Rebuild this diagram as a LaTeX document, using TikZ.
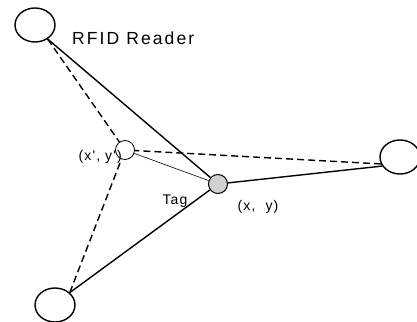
\documentclass[tikz,border=0pt]{standalone}
\usepackage{fontspec}
\setmainfont{Liberation Sans}
\newfontfamily\labelfont[LetterSpace=8]{Liberation Sans}
\newfontfamily\titlefont[LetterSpace=12]{Liberation Sans}
\usetikzlibrary{shapes.geometric}
\tikzset{
  reader/.style={draw, ellipse, line width=1.4pt, minimum width=40pt, minimum height=34pt, inner sep=0pt},
  tagdot/.style={draw, circle, line width=1pt, fill=black!18, minimum size=19pt, inner sep=0pt},
  estdot/.style={draw, circle, line width=0.8pt, minimum size=19pt, inner sep=0pt},
  rangeline/.style={line width=1.4pt},
  guessline/.style={line width=1.4pt, dash pattern=on 7pt off 4pt},
  lbl/.style={font=\labelfont\fontsize{14}{16}\selectfont, inner sep=0pt}
}
\begin{document}
\begin{tikzpicture}[x=1pt,y=-1pt]
  \useasboundingbox (0,0) rectangle (417,321);
  % readers
  \node[reader] (r1) at (35,25) {};
  \node[reader] (r2) at (400,157) {};
  \node[reader] (r3) at (55,305) {};
  % estimated position and true tag position
  \node[estdot] (est) at (125,150) {};
  \node[tagdot] (tag) at (218,184) {};
  % measured ranges
  \draw[rangeline] (r1.-48) -- (tag);
  \draw[rangeline] (r3.40) -- (tag);
  \draw[rangeline] (r2.207) -- (tag);
  % ranges to the estimate
  \draw[guessline] (r1.-48) -- (est);
  \draw[guessline] (r3.40) -- (est);
  \draw[guessline] (r2.200) -- (est);
  \draw[line width=0.6pt] (est) -- (tag);
  % labels
  \node[inner sep=0pt, font=\titlefont\fontsize{17.5}{20}\selectfont, anchor=west] (t1) at (72,38) {RFID Reader};
  \node[lbl, anchor=east] (t2) at (122,157) {(x', y')};
  \node[lbl, anchor=center] (t3) at (175,201) {Tag};
  \node[lbl, anchor=center] (t4) at (258,207) {(x,\ \ y)};
\end{tikzpicture}
\end{document}
